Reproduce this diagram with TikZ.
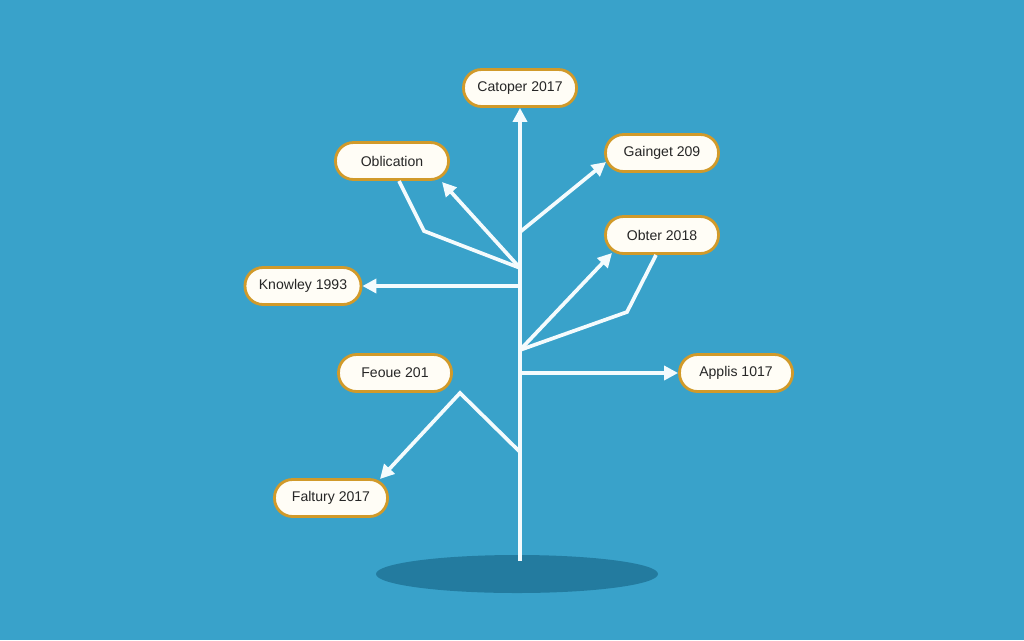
\documentclass[tikz,border=0pt]{standalone}
\usepackage{fontspec}
\setmainfont{Liberation Sans}
\usetikzlibrary{arrows.meta}
\definecolor{bgblue}{HTML}{39A2CA}
\definecolor{shadowblue}{HTML}{237B9F}
\definecolor{goldborder}{HTML}{D19A2A}
\definecolor{pillfill}{HTML}{FFFDF6}
\definecolor{linewhite}{HTML}{F4FBFD}
\newlength{\pxu}
\setlength{\pxu}{0.02cm}
\tikzset{
  pill/.style={draw=goldborder, line width=1.6pt, fill=pillfill, rounded corners=10.3pt,
    minimum width=113\pxu, minimum height=37\pxu, inner sep=0pt,
    font=\fontsize{8}{10}\selectfont, text=black!85},
  link/.style={draw=linewhite, line width=2.1pt, line join=miter},
  arr/.style={link, -{Triangle[length=8pt, width=8pt]}},
}
\begin{document}
\begin{tikzpicture}[x=0.02cm, y=-0.02cm]
\fill[bgblue] (0,0) rectangle (1024,640);
\useasboundingbox (0,0) rectangle (1024,640);
\fill[shadowblue] (517,574) ellipse [x radius=141, y radius=19];

\node[pill] (cat) at (520,88) {Catoper 2017};
\node[pill] (obl) at (392,161) {Oblication};
\node[pill] (gan) at (662,153) {Gainget 209};
\node[pill] (obt) at (662,235) {Obter 2018};
\node[pill, minimum width=116\pxu] (kno) at (303,286) {Knowley 1993};
\node[pill] (feo) at (395,373) {Feoue 201};
\node[pill] (app) at (736,373) {Applis 1017};
\node[pill] (fal) at (331,498) {Faltury 2017};

\coordinate (base) at (520,561);
\coordinate (jg) at (520,232);
\coordinate (jo) at (520,268);
\coordinate (jk) at (520,286);
\coordinate (jb) at (520,350);
\coordinate (ja) at (520,373);
\coordinate (jf) at (520,452);
\coordinate (bo) at (424,231);
\coordinate (bt) at (627,312);
\coordinate (pk) at (460,393);

\draw[arr] (base) -- (cat.south);
\draw[arr] (jg) -- (606,162);
\draw[arr] (jo) -- (442,182);
\draw[link] (399,181) -- (bo) -- (jo);
\draw[arr] (jk) -- (kno.east);
\draw[arr] (jb) -- (612,253);
\draw[link] (656,255) -- (bt) -- (jb);
\draw[arr] (ja) -- (app.west);
\draw[arr] (jf) -- (pk) -- (380,479);
\end{tikzpicture}
\end{document}
